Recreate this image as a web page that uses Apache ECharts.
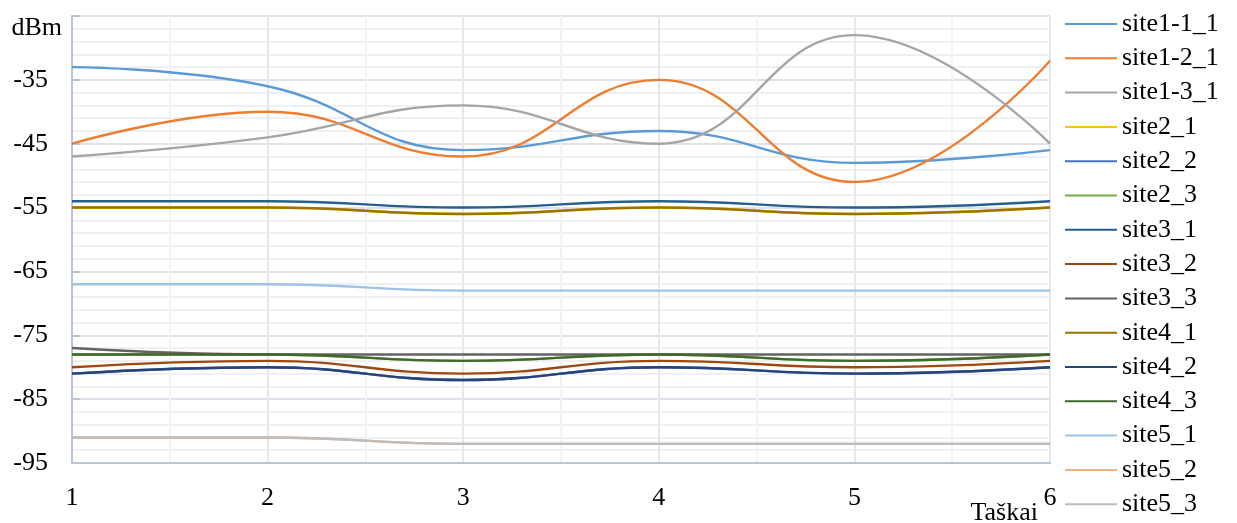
<!DOCTYPE html>
<html>
<head>
<meta charset="utf-8">
<script src="https://cdn.jsdelivr.net/npm/echarts@6/dist/echarts.min.js"></script>
<style>
  html, body { margin: 0; padding: 0; background: #ffffff; }
  #chart { width: 1237px; height: 523px; }
</style>
</head>
<body>
<div id="chart"></div>
<script>
// Measurement points along the route
const points = [1, 2, 3, 4, 5, 6];

// Received signal level per site, dBm
const site1_1_1 = [-33, -36, -46, -43, -48, -46];
const site1_2_1 = [-45, -40, -47, -35, -51, -32];
const site1_3_1 = [-47, -44, -39, -45, -28, -45];
const site2_1 = [-55, -55, -56, -55, -56, -55];
const site2_2 = [-81, -80, -82, -80, -81, -80];
const site2_3 = [-78, -78, -79, -78, -79, -78];
const site3_1 = [-54, -54, -55, -54, -55, -54];
const site3_2 = [-80, -79, -81, -79, -80, -79];
const site3_3 = [-77, -78, -78, -78, -78, -78];
const site4_1 = [-55, -55, -56, -55, -56, -55];
const site4_2 = [-81, -80, -82, -80, -81, -80];
const site4_3 = [-78, -78, -79, -78, -79, -78];
const site5_1 = [-67, -67, -68, -68, -68, -68];
const site5_2 = [-91, -91, -92, -92, -92, -92];
const site5_3 = [-91, -91, -92, -92, -92, -92];

const seriesNames = ['site1-1_1', 'site1-2_1', 'site1-3_1', 'site2_1', 'site2_2', 'site2_3',
  'site3_1', 'site3_2', 'site3_3', 'site4_1', 'site4_2', 'site4_3', 'site5_1', 'site5_2', 'site5_3'];
const seriesValues = [site1_1_1, site1_2_1, site1_3_1, site2_1, site2_2, site2_3,
  site3_1, site3_2, site3_3, site4_1, site4_2, site4_3, site5_1, site5_2, site5_3];

// y-axis range and tick spacing
const yMin = -95, yMax = -25, yStep = 10;

const colors = ['#5B9BD5', '#ED7D31', '#A5A5A5', '#FFC000', '#4472C4', '#70AD47',
  '#255E91', '#9E480E', '#636363', '#997300', '#264478', '#43682B',
  '#9DC3E6', '#F4B183', '#BDBDBD'];

const font = 'Liberation Serif';
const fontSize = 26;
const axisColor = '#B9C4D6';

const chart = echarts.init(document.getElementById('chart'), null, { renderer: 'canvas' });

chart.setOption({
  animation: false,
  backgroundColor: '#ffffff',
  color: colors,
  grid: { left: 72, right: 187, top: 16, bottom: 60, containLabel: false, outerBoundsMode: 'none' },
  legend: {
    type: 'plain',
    orient: 'vertical',
    left: 1065,
    top: 11,
    bottom: 0,
    padding: 0,
    icon: 'rect',
    itemWidth: 52,
    itemHeight: 2,
    itemGap: 8.3,
    data: seriesNames,
    textStyle: { fontFamily: font, fontSize: fontSize, lineHeight: 26, color: '#000000' }
  },
  xAxis: {
    type: 'value',
    min: 1,
    max: 6,
    interval: 1,
    name: 'Taškai',
    nameLocation: 'end',
    nameGap: 0,
    nameMoveOverlap: false,
    nameTextStyle: {
      fontFamily: font, fontSize: fontSize, color: '#000000',
      align: 'right', verticalAlign: 'top', padding: [37, 12, 0, 0]
    },
    axisLine: { show: true, lineStyle: { color: axisColor, width: 2 } },
    axisTick: { show: false },
    axisLabel: { fontFamily: font, fontSize: fontSize, color: '#000000', margin: 22 },
    splitLine: { show: true, lineStyle: { color: '#E3E7EE', width: 2 } },
    minorTick: { show: false, splitNumber: 2 },
    minorSplitLine: { show: true, lineStyle: { color: '#F1F3F6', width: 2 } }
  },
  yAxis: {
    type: 'value',
    min: yMin,
    max: yMax,
    interval: yStep,
    name: 'dBm',
    nameLocation: 'end',
    nameGap: -12,
    nameMoveOverlap: false,
    nameTextStyle: {
      fontFamily: font, fontSize: fontSize, color: '#000000',
      align: 'right', verticalAlign: 'middle', padding: [0, 10, 0, 0]
    },
    axisLine: { show: true, lineStyle: { color: axisColor, width: 2 } },
    axisTick: { show: true, inside: true, length: 8, lineStyle: { color: axisColor, width: 2 } },
    axisLabel: {
      fontFamily: font, fontSize: fontSize, color: '#000000', margin: 24,
      formatter: v => (v === yMax ? '' : String(v))
    },
    splitLine: { show: true, lineStyle: { color: '#DDE2EA', width: 2 } },
    minorTick: { show: false, splitNumber: 5 },
    minorSplitLine: { show: true, lineStyle: { color: '#EEF0F4', width: 2 } }
  },
  series: seriesNames.map((name, i) => ({
    name: name,
    type: 'line',
    smooth: 0.45,
    symbol: 'none',
    lineStyle: { width: 2.4, color: colors[i] },
    itemStyle: { color: colors[i] },
    data: points.map((p, j) => [p, seriesValues[i][j]])
  }))
});
</script>
</body>
</html>
